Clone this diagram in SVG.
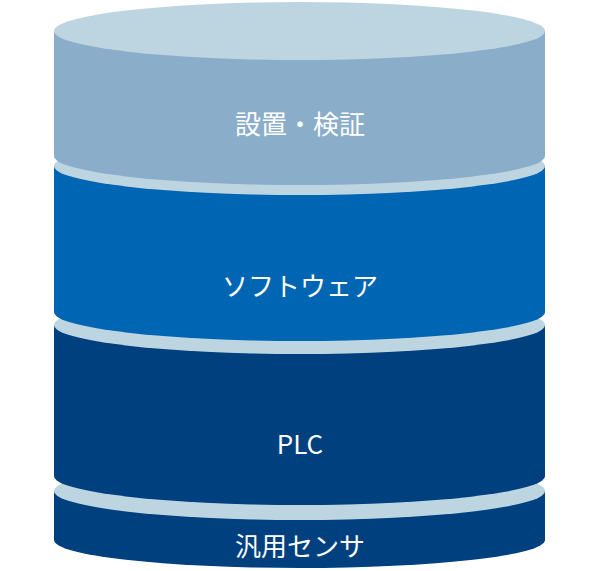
<svg xmlns="http://www.w3.org/2000/svg" width="600" height="571" viewBox="0 0 600 571">
<style>
.lt{fill:#bdd4e1}
.t{fill:#fff;font-family:"Noto Sans CJK JP","Noto Sans",sans-serif;font-size:26px;text-anchor:middle}
</style>
<g id="s4">
<rect x="54" y="491" width="491" height="49" fill="#00407e"/>
<ellipse cx="299.5" cy="540" rx="245.5" ry="28" fill="#00407e"/>
<ellipse class="lt" cx="299.5" cy="491" rx="245.5" ry="29"/>
</g>
<g id="s3">
<rect x="54" y="325" width="491" height="151" fill="#00407e"/>
<ellipse cx="299.5" cy="476" rx="245.5" ry="29" fill="#00407e"/>
<ellipse class="lt" cx="299.5" cy="325" rx="245.5" ry="29"/>
</g>
<g id="s2">
<rect x="54" y="166" width="491" height="146" fill="#0066b3"/>
<ellipse cx="299.5" cy="312" rx="245.5" ry="29" fill="#0066b3"/>
<ellipse class="lt" cx="299.5" cy="166" rx="245.5" ry="29"/>
</g>
<g id="s1">
<rect x="54" y="31" width="491" height="125" fill="#8aadca"/>
<ellipse cx="299.5" cy="156" rx="245.5" ry="29" fill="#8aadca"/>
<ellipse class="lt" cx="299.5" cy="31" rx="245.5" ry="29"/>
</g>
<g id="labels">
<text class="t" x="300" y="134">設置・検証</text>
<text class="t" x="300" y="296">ソフトウェア</text>
<text class="t" x="300" y="454">PLC</text>
<text class="t" x="300" y="556">汎用センサ</text>
</g>
<g id="connectors"/>
</svg>
